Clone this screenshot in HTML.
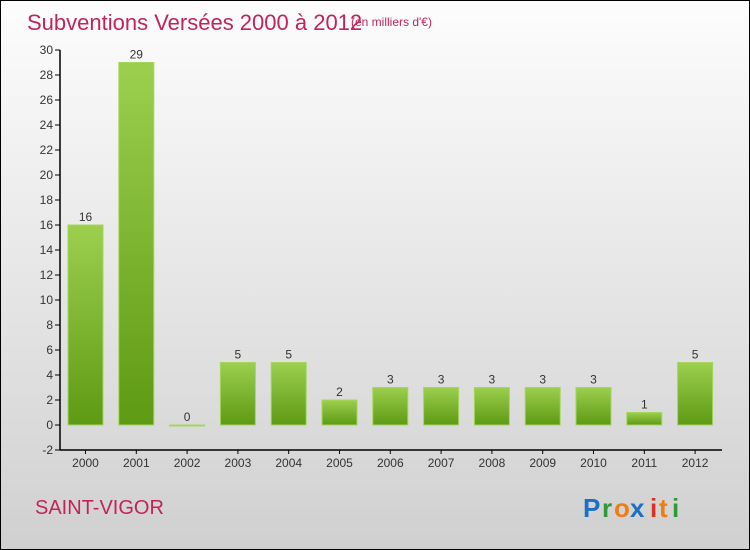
<!DOCTYPE html>
<html><head><meta charset="utf-8"><style>
body{margin:0}
#wrap{position:relative;width:750px;height:550px;box-sizing:border-box;border:1px solid #000;background:linear-gradient(#fdfdfd,#d0d0d0);font-family:"Liberation Sans",sans-serif;overflow:hidden}
</style></head><body>
<div id="wrap">
<svg id="chart" width="750" height="550" style="position:absolute;left:-1px;top:-1px">
<defs><linearGradient id="bg" x1="0" y1="0" x2="0" y2="1"><stop offset="0" stop-color="#9ccf4e"/><stop offset="1" stop-color="#5e9a14"/></linearGradient></defs>
<text x="27" y="30" font-size="22" fill="#c0245a">Subventions Versées 2000 à 2012</text>
<text x="351" y="26" font-size="12" fill="#c0245a">(en milliers d'€)</text>
<text x="35" y="514" font-size="20" fill="#c0245a">SAINT-VIGOR</text>
<g font-size="26" font-weight="bold">
<text x="583" y="517" fill="#1a6fc9">P</text><text x="602" y="517" fill="#2e9a3a">r</text><text x="614" y="517" fill="#f07d10">o</text><text x="630" y="517" fill="#1a6fc9">x</text><text x="650" y="517" fill="#e0301e">i</text><text x="659" y="517" fill="#f07d10">t</text><text x="672" y="517" fill="#2e9a3a">i</text>
</g>
<g id="plot"></g>
</svg>
</div>
<script>
const categories=["2000","2001","2002","2003","2004","2005","2006","2007","2008","2009","2010","2011","2012"];
const values=[16,29,0,5,5,2,3,3,3,3,3,1,5];
const yTicks=[-2,0,2,4,6,8,10,12,14,16,18,20,22,24,26,28,30];
const NS="http://www.w3.org/2000/svg";
const g=document.getElementById('plot');
const y=v=>425-v*12.5;
const x=i=>85.5+i*50.8;
function mk(t,a){const e=document.createElementNS(NS,t);for(const k in a)e.setAttribute(k,a[k]);g.appendChild(e);return e;}
let ax=mk('line',{x1:60,y1:50,x2:60,y2:450,stroke:'#000','stroke-width':1.5});


let bx=mk('line',{x1:60,y1:450,x2:722,y2:450,stroke:'#000','stroke-width':1.5});


yTicks.forEach(t=>{
 const l=mk('line',{x1:55,y1:y(t),x2:60,y2:y(t),stroke:'#000'});
 
 
 const tx=mk('text',{x:53,y:y(t)+4,'font-size':12,fill:'#333','text-anchor':'end'});
 tx.textContent=t;
 
 
});
categories.forEach((c,i)=>{
 const cx=x(i);
 const l=mk('line',{x1:cx,y1:450,x2:cx,y2:454,stroke:'#000'});
 
 
 const tx=mk('text',{x:cx,y:467,'font-size':12,fill:'#333','text-anchor':'middle'});
 tx.textContent=c;
 
 
 const v=values[i];
 const h=Math.max(1,Math.abs(y(v)-y(0)));
 const r=mk('rect',{x:cx-17.5,y:Math.min(y(v),y(0)),width:35,height:h,fill:'url(#bg)',stroke:'#a5d65c','stroke-width':1});
 
 
 const vt=mk('text',{x:cx,y:Math.min(y(v),y(0))-4,'font-size':12,fill:'#333','text-anchor':'middle'});
 vt.textContent=v;
 
 
});
</script>
</body></html>
